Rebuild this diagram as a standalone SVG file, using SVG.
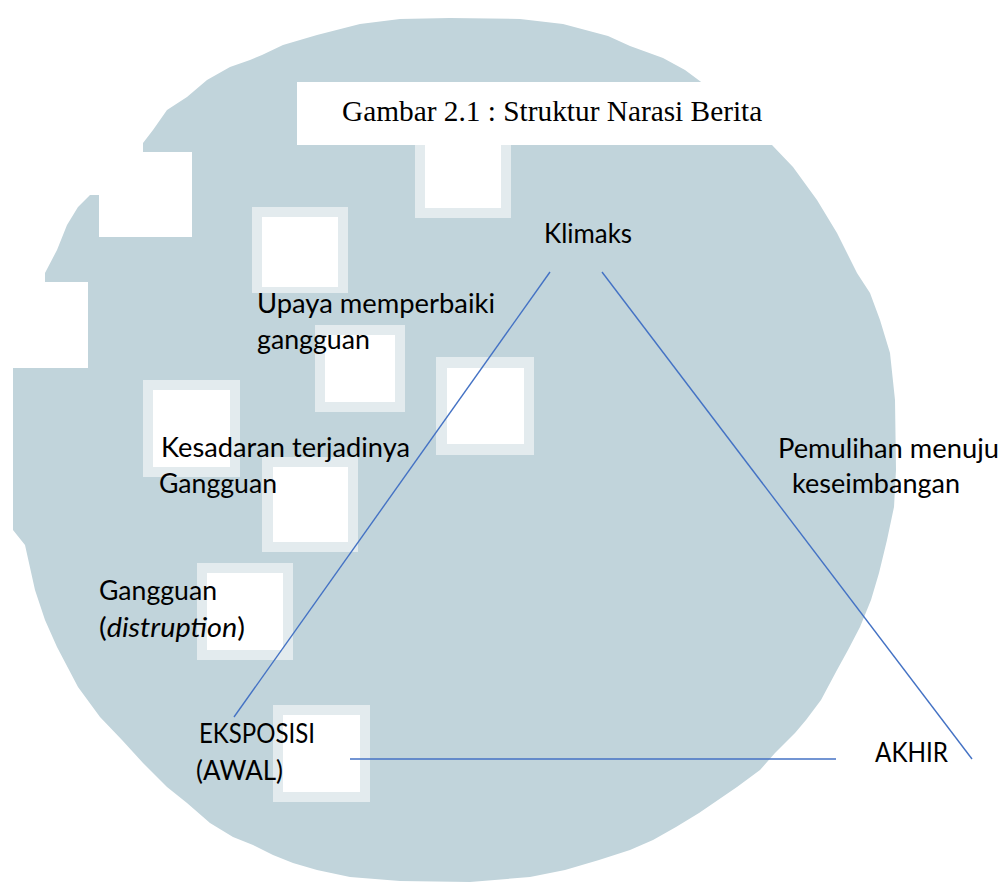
<svg xmlns="http://www.w3.org/2000/svg" width="1007" height="886" viewBox="0 0 1007 886">
<style>
.blob{fill:#c1d4db}
.frame{fill:#e3ebee}
.hole{fill:#ffffff}
.lbl{font-family:Lato,"Liberation Sans",sans-serif;font-size:27px;fill:#000000}
.ttl{font-family:"Liberation Serif",serif;font-size:29.33px;fill:#000000}
.conn{stroke:#4472c4;stroke-width:1.4;fill:none}
</style>
<rect width="1007" height="886" fill="#ffffff"/>
<g id="background">
<path class="blob" d="M283,45 L317,35 L360,24 L400,19 L450,18 L520,19 L563,24 L608,36 L630,46 L663,58 L685,70 L720,96 L745,117 L772,145 L793,167 L817,200 L837,233 L857,273 L870,293 L880,320 L890,353 L895,400 L896,470 L894,507 L887,540 L879,573 L871,600 L860,627 L848,650 L837,670 L821,700 L806,720 L795,733 L775,753 L760,770 L737,787 L718,800 L699,813 L676,827 L653,840 L630,850 L599,860 L565,870 L530,877 L470,882 L400,881 L350,877 L317,870 L293,863 L273,855 L253,845 L233,837 L210,823 L187,803 L167,787 L143,763 L122,740 L100,717 L78,687 L57,647 L45,620 L35,590 L25,545 L13,530 L13,368 L88,368 L88,282 L45,282 L45,273 L57,250 L67,225 L78,207 L90,195 L99,195 L99,237 L192,237 L192,152 L143,152 L143,143 L153,130 L167,110 L187,97 L207,80 L230,67 L250,60 L262,55 Z"/>
<rect class="hole" x="297" y="82" width="480" height="63"/>
<rect class="frame" x="415" y="145" width="96" height="73"/>
<rect class="hole" x="425" y="145" width="76" height="63"/>
<rect class="frame" x="252" y="207" width="96" height="86"/>
<rect class="hole" x="262" y="217" width="76" height="70"/>
<rect class="frame" x="315" y="325" width="90" height="87"/>
<rect class="hole" x="325" y="335" width="70" height="67"/>
<rect class="frame" x="436" y="357" width="98" height="98"/>
<rect class="hole" x="447" y="368" width="77" height="76"/>
<rect class="frame" x="143" y="380" width="97" height="97"/>
<rect class="hole" x="153" y="390" width="77" height="77"/>
<rect class="frame" x="262" y="457" width="96" height="95"/>
<rect class="hole" x="273" y="467" width="75" height="75"/>
<rect class="frame" x="197" y="563" width="96" height="97"/>
<rect class="hole" x="207" y="573" width="76" height="77"/>
<rect class="frame" x="273" y="705" width="97" height="97"/>
<rect class="hole" x="283" y="715" width="77" height="77"/>
</g>
<g id="title"><text class="ttl" x="342" y="121">Gambar 2.1 : Struktur Narasi Berita</text></g>
<g id="connectors">
<line class="conn" x1="550" y1="272" x2="234" y2="717"/>
<line class="conn" x1="602" y1="272" x2="972" y2="759"/>
<line class="conn" x1="350" y1="759" x2="836" y2="759" stroke-width="2"/>
</g>
<g id="node-klimaks"><text class="lbl" x="544" y="243" textLength="88" lengthAdjust="spacingAndGlyphs">Klimaks</text></g>
<g id="node-upaya"><text class="lbl" x="257" y="313" textLength="238" lengthAdjust="spacingAndGlyphs">Upaya memperbaiki</text><text class="lbl" x="257" y="349" textLength="113" lengthAdjust="spacingAndGlyphs">gangguan</text></g>
<g id="node-kesadaran"><text class="lbl" x="161" y="457" textLength="249" lengthAdjust="spacingAndGlyphs">Kesadaran terjadinya</text><text class="lbl" x="159" y="493" textLength="118" lengthAdjust="spacingAndGlyphs">Gangguan</text></g>
<g id="node-gangguan"><text class="lbl" x="99" y="600" textLength="118" lengthAdjust="spacingAndGlyphs">Gangguan</text><text class="lbl" x="99" y="637" textLength="146" lengthAdjust="spacingAndGlyphs">(<tspan font-style="italic">distruption</tspan>)</text></g>
<g id="node-eksposisi"><text class="lbl" x="199" y="743" textLength="116" lengthAdjust="spacingAndGlyphs">EKSPOSISI</text><text class="lbl" x="196" y="780" textLength="87" lengthAdjust="spacingAndGlyphs">(AWAL)</text></g>
<g id="node-akhir"><text class="lbl" x="875" y="762" textLength="73" lengthAdjust="spacingAndGlyphs">AKHIR</text></g>
<g id="node-pemulihan"><text class="lbl" x="778" y="458" textLength="221" lengthAdjust="spacingAndGlyphs">Pemulihan menuju</text><text class="lbl" x="792" y="493" textLength="168" lengthAdjust="spacingAndGlyphs">keseimbangan</text></g>
</svg>
